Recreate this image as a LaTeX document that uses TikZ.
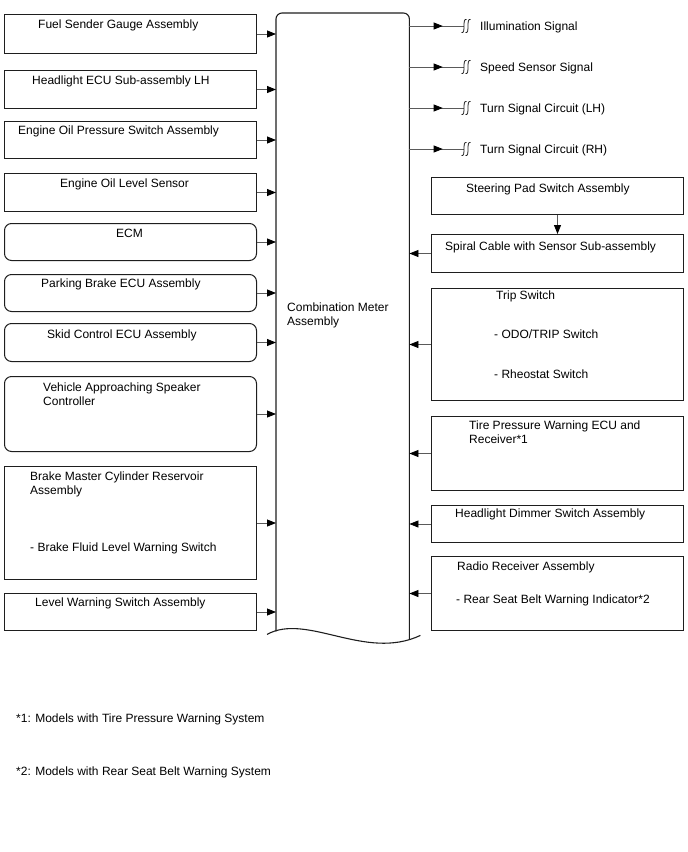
\documentclass[tikz,border=0pt]{standalone}
\usepackage{fontspec}
\setmainfont{Liberation Sans}
\usetikzlibrary{arrows.meta,positioning,calc,decorations.markings}
\definecolor{linegray}{RGB}{90,90,90}
\definecolor{boxdark}{RGB}{30,30,30}

\begin{document}
\begin{tikzpicture}[x=1pt,y=-1pt,
    box/.style={draw=boxdark,line width=1pt,anchor=north west,inner sep=0pt,minimum width=252},
    rbox/.style={box,rounded corners=7},
    txt/.style={anchor=base west,inner sep=0pt,font=\fontsize{12}{14}\selectfont},
    mtxt/.style={txt,anchor=north west,align=left},
    arr/.style={draw=linegray,line width=0.8pt,-{Triangle[length=9pt,width=7pt,color=black]}},
    sig/.style={draw=linegray,line width=0.8pt,postaction={decorate},
      decoration={markings,mark=at position 0.61 with {\arrow{Triangle[length=9pt,width=7pt,color=black]}}}},
    brk/.style={draw=boxdark,line width=0.8pt}]
  \useasboundingbox (0,0) rectangle (688,852);
  % combination meter
  \node[minimum width=133,minimum height=623,anchor=north west,inner sep=0pt] (cm) at (276,13) {};
  \draw[boxdark,line width=1.1pt,rounded corners=6] ($(cm.south west)+(0,-5)$) -- (cm.north west) -- (cm.north east) -- ($(cm.south east)+(0,3)$);
  \draw[boxdark,line width=1.1pt] ($(cm.south west)+(-9,-2)$) .. controls +(40,-22) and +(-55,26) .. ($(cm.south east)+(11,-1)$);
  \node[mtxt] (cm-t) at (287,302.5) {Combination Meter\\Assembly};
  % inputs on the left
  \node[box,minimum height=39] (fuel) at (4,14) {};
  \node[txt] (fuel-t) at (38,28.5) {Fuel Sender Gauge Assembly};
  \node[box,minimum height=38] (hlecu) at (4,70) {};
  \node[txt] (hlecu-t) at (32,84.5) {Headlight ECU Sub-assembly LH};
  \node[box,minimum height=37] (eop) at (4,121) {};
  \node[txt] (eop-t) at (18,134.5) {Engine Oil Pressure Switch Assembly};
  \node[box,minimum height=38] (eol) at (4,173) {};
  \node[txt] (eol-t) at (60,187.5) {Engine Oil Level Sensor};
  \node[rbox,minimum height=37] (ecm) at (4,223) {};
  \node[txt] (ecm-t) at (116,237.5) {ECM};
  \node[rbox,minimum height=37] (pkb) at (4,274) {};
  \node[txt] (pkb-t) at (41,287.5) {Parking Brake ECU Assembly};
  \node[rbox,minimum height=38] (skid) at (4,323) {};
  \node[txt] (skid-t) at (47,338) {Skid Control ECU Assembly};
  \node[rbox,minimum height=75] (vasc) at (4,376) {};
  \node[mtxt] (vasc-t) at (43,382.5) {Vehicle Approaching Speaker\\Controller};
  \node[box,minimum height=113] (bmc) at (4,466) {};
  \node[mtxt] (bmc-t) at (30,471.5) {Brake Master Cylinder Reservoir\\Assembly};
  \node[txt] (bmc-s) at (30,551) {- Brake Fluid Level Warning Switch};
  \node[box,minimum height=37] (lws) at (4,593) {};
  \node[txt] (lws-t) at (35,606.5) {Level Warning Switch Assembly};
  \foreach \n in {fuel,hlecu,eop,eol,ecm,pkb,skid,vasc,bmc,lws}
    \draw[arr] (\n.east) -- (\n.east -| cm.west);
  % outputs at the top right
  \coordinate (s1) at (464,26);
  \coordinate (s2) at (464,67);
  \coordinate (s3) at (464,108);
  \coordinate (s4) at (464,149);
  \node[txt] (s1-t) at (480,30.5) {Illumination Signal};
  \node[txt] (s2-t) at (480,71.5) {Speed Sensor Signal};
  \node[txt] (s3-t) at (480,112.5) {Turn Signal Circuit (LH)};
  \node[txt] (s4-t) at (480,153.5) {Turn Signal Circuit (RH)};
  \foreach \s in {s1,s2,s3,s4} {
    \draw[sig] (cm.east |- \s) -- (\s);
    \draw[brk] ($(\s)+(-2.5,6.5)$) .. controls +(2.5,1) and +(0,3) .. ($(\s)+(0,0)$) .. controls +(0,-3) and +(-2.5,-1) .. ($(\s)+(2.5,-6.5)$);
    \draw[brk] ($(\s)+(1.5,6.5)$) .. controls +(2.5,1) and +(0,3) .. ($(\s)+(4,0)$) .. controls +(0,-3) and +(-2.5,-1) .. ($(\s)+(6.5,-6.5)$);
  }
  % inputs on the right
  \node[box,minimum height=37] (spsa) at (431,177) {};
  \node[txt] (spsa-t) at (466,192.5) {Steering Pad Switch Assembly};
  \node[box,minimum height=38] (spiral) at (431,234) {};
  \node[txt] (spiral-t) at (445,250) {Spiral Cable with Sensor Sub-assembly};
  \node[box,minimum height=112] (trip) at (431,288) {};
  \node[txt] (trip-t) at (496,299.5) {Trip Switch};
  \node[txt] (trip-a) at (494,338.5) {- ODO/TRIP Switch};
  \node[txt] (trip-b) at (494,378.5) {- Rheostat Switch};
  \node[box,minimum height=74] (tpws) at (431,416) {};
  \node[mtxt] (tpws-t) at (469,420.5) {Tire Pressure Warning ECU and\\Receiver*1};
  \node[box,minimum height=37] (hdsa) at (431,505) {};
  \node[txt] (hdsa-t) at (455,517.5) {Headlight Dimmer Switch Assembly};
  \node[box,minimum height=74] (radio) at (431,556) {};
  \node[txt] (radio-t) at (457,570.5) {Radio Receiver Assembly};
  \node[txt] (radio-s) at (456,603.5) {- Rear Seat Belt Warning Indicator*2};
  \draw[arr] (spsa.south) -- (spiral.north);
  \foreach \n in {spiral,trip,tpws,hdsa,radio}
    \draw[arr] (\n.west) -- (\n.west -| cm.east);
  % notes
  \node[txt] (fn1) at (16,722.5) {*1: Models with Tire Pressure Warning System};
  \node[txt] (fn2) at (16,775.5) {*2: Models with Rear Seat Belt Warning System};
\end{tikzpicture}
\end{document}
